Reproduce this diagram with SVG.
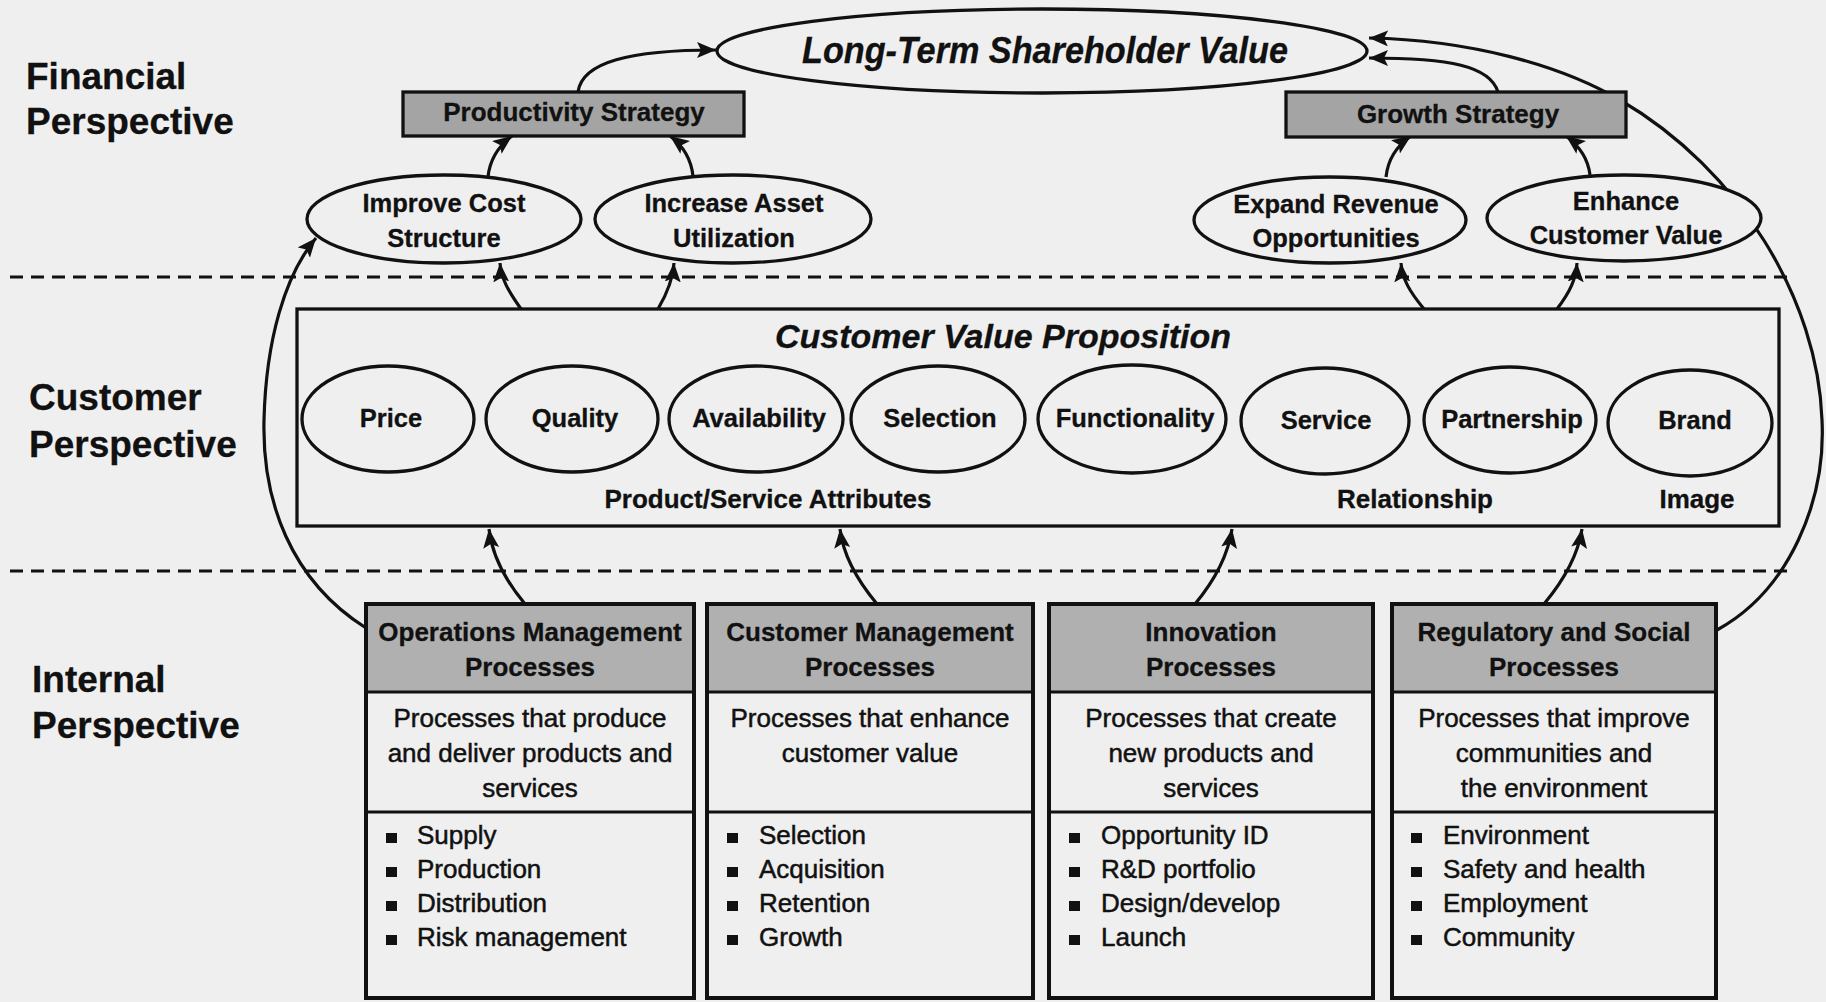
<svg xmlns="http://www.w3.org/2000/svg" width="1826" height="1002" viewBox="0 0 1826 1002">
<style>
text{font-family:"Liberation Sans",Arial,Helvetica,sans-serif;fill:#111;stroke:#111;stroke-width:0.3px;}
.persp{font-size:37px;font-weight:bold;}
.b{font-weight:bold;text-anchor:middle;}
.t26{font-size:26px;}
.t25{font-size:25.5px;}
.title{font-size:34px;font-style:italic;}
.reg{font-size:26px;text-anchor:middle;stroke-width:0.5px;}
.bul{font-size:26px;stroke-width:0.5px;}
.shape{fill:#efefef;stroke:#111;stroke-width:3.3;}
.strat{fill:#a4a4a4;stroke:#111;stroke-width:3.3;}
.hdr{fill:#b0b0b0;}
.pbox{fill:none;stroke:#111;stroke-width:4;}
.div{stroke:#111;stroke-width:3;}
.conn{fill:none;stroke:#111;stroke-width:3.2;marker-end:url(#arr);}
.dash{stroke:#111;stroke-width:3;stroke-dasharray:13 8;}
.sq{fill:#111;}
</style>
<defs>
<marker id="arr" markerUnits="userSpaceOnUse" markerWidth="22" markerHeight="18" refX="19" refY="8" orient="auto">
<path d="M0,0 L19,8 L0,16 L4,8 z" fill="#111"/>
</marker>
</defs>
<rect x="0" y="0" width="1826" height="1002" fill="#efefef"/>

<g id="labels">
<text class="persp" x="26" y="89">Financial</text>
<text class="persp" x="26" y="134">Perspective</text>
<text class="persp" x="29" y="410">Customer</text>
<text class="persp" x="29" y="457">Perspective</text>
<text class="persp" x="32" y="692">Internal</text>
<text class="persp" x="32" y="738">Perspective</text>
</g>

<g id="dividers">
<line class="dash" x1="10" y1="277" x2="1787" y2="277"/>
<line class="dash" x1="10" y1="571" x2="1787" y2="571"/>
</g>

<g id="connectors">
<path class="conn" d="M578,92 C582,62 630,50 716,50"/>
<path class="conn" d="M1498,92 C1490,66 1450,58 1369,58"/>
<path class="conn" d="M1717,630 C1790,590 1826,500 1822,420 C1818,300 1740,170 1620,100 C1560,65 1470,40 1369,38"/>
<path class="conn" d="M366,628 C290,580 262,500 264,420 C266,340 285,275 316,238"/>
<path class="conn" d="M488,177 C490,158 500,145 512,136"/>
<path class="conn" d="M693,176 C691,158 682,145 670,136"/>
<path class="conn" d="M1386,177 C1388,158 1398,145 1411,136"/>
<path class="conn" d="M1590,175 C1588,158 1578,145 1566,136"/>
<path class="conn" d="M521,309 C509,292 501,279 500,263"/>
<path class="conn" d="M658,309 C668,292 673,279 674,263"/>
<path class="conn" d="M1424,309 C1410,292 1402,279 1401,263"/>
<path class="conn" d="M1557,309 C1570,292 1576,279 1577,263"/>
<path class="conn" d="M525,604 C505,580 492,555 489,529"/>
<path class="conn" d="M877,604 C857,580 843,555 840,529"/>
<path class="conn" d="M1195,604 C1215,580 1228,555 1232,529"/>
<path class="conn" d="M1544,604 C1564,580 1578,555 1582,529"/>
</g>

<g id="ltsv">
<ellipse class="shape" cx="1042" cy="51" rx="325" ry="42"/>
<text class="b title" x="1045" y="63" textLength="486" lengthAdjust="spacingAndGlyphs" style="font-size:37px">Long-Term Shareholder Value</text>
</g>

<g id="productivity-strategy">
<rect class="strat" x="403" y="92" width="341" height="44"/>
<text class="b t26" x="574" y="121">Productivity Strategy</text>
</g>

<g id="growth-strategy">
<rect class="strat" x="1286" y="92" width="340" height="45"/>
<text class="b t26" x="1458" y="123">Growth Strategy</text>
</g>

<g id="improve-cost">
<ellipse class="shape" cx="444" cy="219" rx="137" ry="44"/>
<text class="b t25" x="444" y="212">Improve Cost</text>
<text class="b t25" x="444" y="247">Structure</text>
</g>

<g id="increase-asset">
<ellipse class="shape" cx="733" cy="219" rx="138" ry="44"/>
<text class="b t25" x="734" y="212">Increase Asset</text>
<text class="b t25" x="734" y="247">Utilization</text>
</g>

<g id="expand-revenue">
<ellipse class="shape" cx="1330" cy="220" rx="136" ry="43"/>
<text class="b t25" x="1336" y="213">Expand Revenue</text>
<text class="b t25" x="1336" y="247">Opportunities</text>
</g>

<g id="enhance-value">
<ellipse class="shape" cx="1624" cy="218" rx="137" ry="43"/>
<text class="b t25" x="1626" y="210">Enhance</text>
<text class="b t25" x="1626" y="244">Customer Value</text>
</g>

<g id="cvp">
<rect class="shape" x="297" y="309" width="1482" height="217"/>
<text class="b title" x="1003" y="348">Customer Value Proposition</text>
<text class="b t26" x="768" y="508">Product/Service Attributes</text>
<text class="b t26" x="1415" y="508">Relationship</text>
<text class="b t26" x="1697" y="508">Image</text>
</g>

<g id="price"><ellipse class="shape" cx="388" cy="419" rx="86" ry="53"/><text class="b t25" x="391" y="427">Price</text></g>
<g id="quality"><ellipse class="shape" cx="572" cy="419" rx="86" ry="53"/><text class="b t25" x="575" y="427">Quality</text></g>
<g id="availability"><ellipse class="shape" cx="756" cy="419" rx="87" ry="53"/><text class="b t25" x="759" y="427">Availability</text></g>
<g id="selection"><ellipse class="shape" cx="938" cy="419" rx="87" ry="53"/><text class="b t25" x="940" y="427">Selection</text></g>
<g id="functionality"><ellipse class="shape" cx="1132" cy="419" rx="94" ry="54"/><text class="b t25" x="1135" y="427">Functionality</text></g>
<g id="service"><ellipse class="shape" cx="1325" cy="421" rx="84" ry="53"/><text class="b t25" x="1326" y="429">Service</text></g>
<g id="partnership"><ellipse class="shape" cx="1510" cy="420" rx="86" ry="53"/><text class="b t25" x="1512" y="428">Partnership</text></g>
<g id="brand"><ellipse class="shape" cx="1690" cy="423" rx="82" ry="53"/><text class="b t25" x="1695" y="429">Brand</text></g>

<g id="operations">
<rect class="hdr" x="366" y="604" width="328" height="88"/>
<line class="div" x1="366" y1="692" x2="694" y2="692"/>
<line class="div" x1="366" y1="812" x2="694" y2="812"/>
<rect class="pbox" x="366" y="604" width="328" height="394"/>
<text class="b t26" x="530" y="641">Operations Management</text>
<text class="b t26" x="530" y="676">Processes</text>
<text class="reg" x="530" y="727">Processes that produce</text>
<text class="reg" x="530" y="762">and deliver products and</text>
<text class="reg" x="530" y="797">services</text>
<rect class="sq" x="386" y="833" width="11" height="10"/><text class="bul" x="417" y="844">Supply</text>
<rect class="sq" x="386" y="867" width="11" height="10"/><text class="bul" x="417" y="878">Production</text>
<rect class="sq" x="386" y="901" width="11" height="10"/><text class="bul" x="417" y="912">Distribution</text>
<rect class="sq" x="386" y="935" width="11" height="10"/><text class="bul" x="417" y="946">Risk management</text>
</g>

<g id="customer-mgmt">
<rect class="hdr" x="707" y="604" width="326" height="88"/>
<line class="div" x1="707" y1="692" x2="1033" y2="692"/>
<line class="div" x1="707" y1="812" x2="1033" y2="812"/>
<rect class="pbox" x="707" y="604" width="326" height="394"/>
<text class="b t26" x="870" y="641">Customer Management</text>
<text class="b t26" x="870" y="676">Processes</text>
<text class="reg" x="870" y="727">Processes that enhance</text>
<text class="reg" x="870" y="762">customer value</text>
<rect class="sq" x="727" y="833" width="11" height="10"/><text class="bul" x="759" y="844">Selection</text>
<rect class="sq" x="727" y="867" width="11" height="10"/><text class="bul" x="759" y="878">Acquisition</text>
<rect class="sq" x="727" y="901" width="11" height="10"/><text class="bul" x="759" y="912">Retention</text>
<rect class="sq" x="727" y="935" width="11" height="10"/><text class="bul" x="759" y="946">Growth</text>
</g>

<g id="innovation">
<rect class="hdr" x="1049" y="604" width="324" height="88"/>
<line class="div" x1="1049" y1="692" x2="1373" y2="692"/>
<line class="div" x1="1049" y1="812" x2="1373" y2="812"/>
<rect class="pbox" x="1049" y="604" width="324" height="394"/>
<text class="b t26" x="1211" y="641">Innovation</text>
<text class="b t26" x="1211" y="676">Processes</text>
<text class="reg" x="1211" y="727">Processes that create</text>
<text class="reg" x="1211" y="762">new products and</text>
<text class="reg" x="1211" y="797">services</text>
<rect class="sq" x="1069" y="833" width="11" height="10"/><text class="bul" x="1101" y="844">Opportunity ID</text>
<rect class="sq" x="1069" y="867" width="11" height="10"/><text class="bul" x="1101" y="878">R&amp;D portfolio</text>
<rect class="sq" x="1069" y="901" width="11" height="10"/><text class="bul" x="1101" y="912">Design/develop</text>
<rect class="sq" x="1069" y="935" width="11" height="10"/><text class="bul" x="1101" y="946">Launch</text>
</g>

<g id="regulatory">
<rect class="hdr" x="1392" y="604" width="324" height="88"/>
<line class="div" x1="1392" y1="692" x2="1716" y2="692"/>
<line class="div" x1="1392" y1="812" x2="1716" y2="812"/>
<rect class="pbox" x="1392" y="604" width="324" height="394"/>
<text class="b t26" x="1554" y="641">Regulatory and Social</text>
<text class="b t26" x="1554" y="676">Processes</text>
<text class="reg" x="1554" y="727">Processes that improve</text>
<text class="reg" x="1554" y="762">communities and</text>
<text class="reg" x="1554" y="797">the environment</text>
<rect class="sq" x="1411" y="833" width="11" height="10"/><text class="bul" x="1443" y="844">Environment</text>
<rect class="sq" x="1411" y="867" width="11" height="10"/><text class="bul" x="1443" y="878">Safety and health</text>
<rect class="sq" x="1411" y="901" width="11" height="10"/><text class="bul" x="1443" y="912">Employment</text>
<rect class="sq" x="1411" y="935" width="11" height="10"/><text class="bul" x="1443" y="946">Community</text>
</g>
</svg>
